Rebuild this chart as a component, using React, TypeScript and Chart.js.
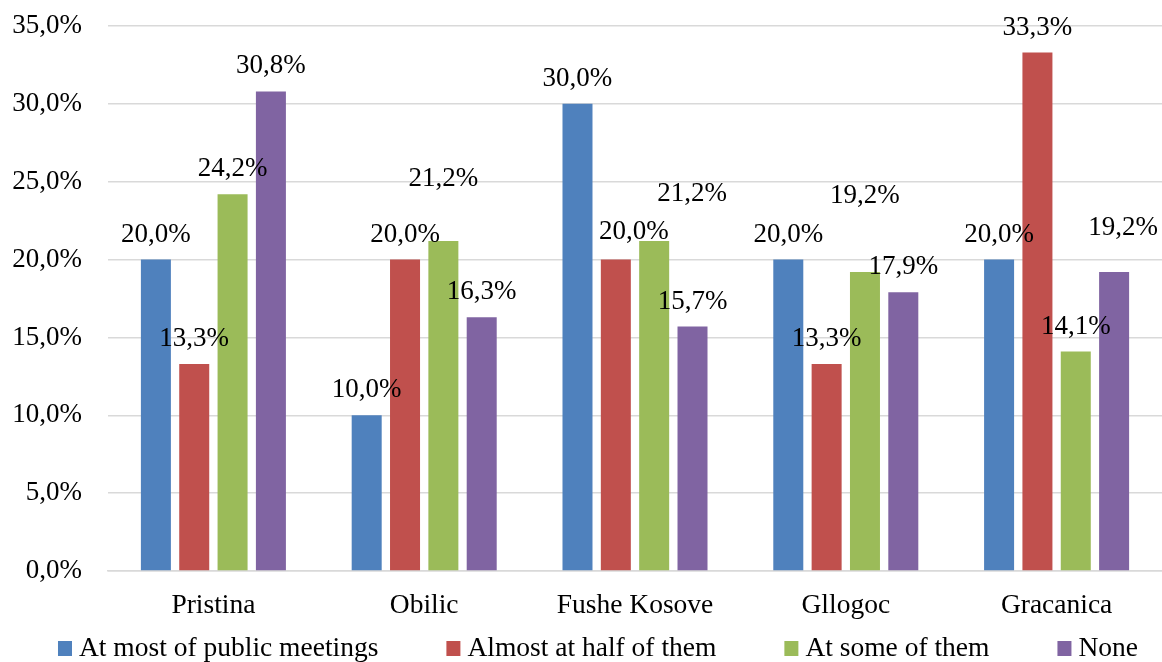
import React, { useEffect, useRef } from "react";
import { Chart, registerables } from "chart.js";

Chart.register(...registerables);

const categories = ["Pristina", "Obilic", "Fushe Kosove", "Gllogoc", "Gracanica"];
const seriesNames = [
  "At most of public meetings",
  "Almost at half of them",
  "At some of them",
  "None",
];
const atMost = [20.0, 10.0, 30.0, 20.0, 20.0];
const almostHalf = [13.3, 20.0, 20.0, 13.3, 33.3];
const atSome = [24.2, 21.2, 21.2, 19.2, 14.1];
const none = [30.8, 16.3, 15.7, 17.9, 19.2];
const yTicks = [0, 5, 10, 15, 20, 25, 30, 35];

const colors = ["#4F81BD", "#C0504D", "#9BBB59", "#8064A2"];

// label nudges (style only): [datasetIndex, categoryIndex, dx, dyUp]
const labelNudges: [number, number, number, number][] = [
  [2, 1, 0, 37],
  [1, 2, 18, 3],
  [2, 2, 38, 22],
  [2, 3, 0, 51],
  [3, 4, 9, 19],
];

const FONT = "'Liberation Serif', 'Times New Roman', serif";
const fmt = (v: number) => v.toFixed(1).replace(".", ",") + "%";

const dataLabelPlugin = {
  id: "dataLabels",
  afterDatasetsDraw(chart: any) {
    const ctx = chart.ctx;
    ctx.save();
    ctx.font = `27px ${FONT}`;
    ctx.fillStyle = "#000";
    ctx.textAlign = "center";
    ctx.textBaseline = "middle";
    chart.data.datasets.forEach((ds: any, di: number) => {
      const meta = chart.getDatasetMeta(di);
      meta.data.forEach((el: any, i: number) => {
        let dx = 0;
        let dy = 0;
        labelNudges.forEach((n) => {
          if (n[0] === di && n[1] === i) {
            dx = n[2];
            dy = n[3];
          }
        });
        ctx.fillText(fmt(ds.data[i]), el.x + dx, el.y - 25 - dy);
      });
    });
    ctx.restore();
  },
};

const legendPlugin = {
  id: "customLegend",
  afterDraw(chart: any) {
    const ctx = chart.ctx;
    ctx.save();
    ctx.font = `27.5px ${FONT}`;
    ctx.textBaseline = "alphabetic";
    ctx.textAlign = "left";
    const box = 14;
    const gapText = 7;
    const gapItem = 68;
    const items = chart.data.datasets.map((ds: any) => ({
      text: ds.label,
      color: ds.backgroundColor,
      w: ctx.measureText(ds.label).width,
    }));
    const total =
      items.reduce((s: number, it: any) => s + box + gapText + it.w, 0) +
      gapItem * (items.length - 1);
    let x = 598 - total / 2;
    const baseline = 656;
    items.forEach((it: any) => {
      ctx.fillStyle = it.color;
      ctx.fillRect(x, baseline - 15, box, 15);
      ctx.fillStyle = "#000";
      ctx.fillText(it.text, x + box + gapText, baseline);
      x += box + gapText + it.w + gapItem;
    });
    ctx.restore();
  },
};

export default function App() {
  const ref = useRef<HTMLCanvasElement>(null);

  useEffect(() => {
    if (!ref.current) return;
    const seriesValues = [atMost, almostHalf, atSome, none];
    const chart = new Chart(ref.current, {
      type: "bar",
      data: {
        labels: categories,
        datasets: seriesValues.map((vals, i) => ({
          label: seriesNames[i],
          data: vals,
          backgroundColor: colors[i],
          borderWidth: 0,
          categoryPercentage: 0.7275,
          barPercentage: 0.7826,
        })),
      },
      options: {
        animation: false,
        responsive: false,
        maintainAspectRatio: false,
        layout: { padding: { left: 0, right: 0, top: 26, bottom: 0 } },
        plugins: {
          legend: { display: false },
          tooltip: { enabled: false },
        },
        scales: {
          x: {
            grid: { display: false, drawTicks: false },
            border: { display: true, color: "#d9d9d9", width: 1.5 },
            ticks: {
              color: "#000",
              font: { family: FONT, size: 27.5 },
              padding: 18,
              maxRotation: 0,
            },
            afterFit: (s: any) => {
              s.height = 91;
              s.paddingLeft = 0;
              s.paddingRight = 0;
            },
          },
          y: {
            min: 0,
            max: 35,
            afterBuildTicks: (s: any) => {
              s.ticks = yTicks.map((v) => ({ value: v }));
            },
            grid: { color: "#d9d9d9", lineWidth: 1.5, drawTicks: false },
            border: { display: false },
            ticks: {
              color: "#000",
              font: { family: FONT, size: 27 },
              padding: 26,
              callback: (v: any) => fmt(Number(v)),
            },
            afterFit: (s: any) => {
              s.width = 108;
              s.paddingTop = 0;
              s.paddingBottom = 0;
            },
          },
        },
      },
      plugins: [dataLabelPlugin, legendPlugin],
    });
    return () => chart.destroy();
  }, []);

  return (
    <div style={{ position: "fixed", left: 0, top: 0, width: 1162, height: 662, background: "#fff" }}>
      <canvas ref={ref} width={1162} height={662} />
    </div>
  );
}
